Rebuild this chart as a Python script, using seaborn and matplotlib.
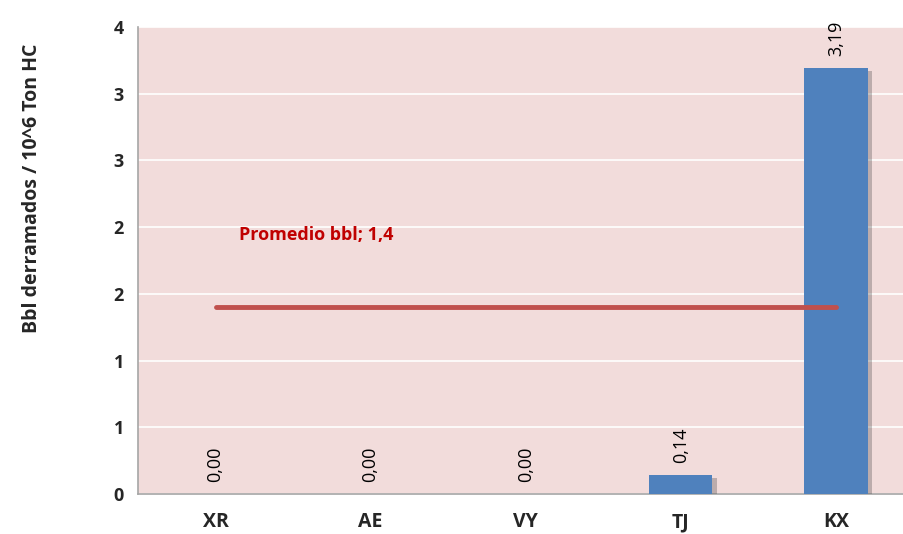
import matplotlib
matplotlib.use("Agg")
import matplotlib.pyplot as plt
import matplotlib.patheffects as pe
import seaborn as sns
import pandas as pd
import numpy as np

# Data
categorias = ["XR", "AE", "VY", "TJ", "KX"]
valores = [0.0, 0.0, 0.0, 0.14, 3.19]
promedio = 1.4
etiquetas = ["0,00", "0,00", "0,00", "0,14", "3,19"]
y_ticks = [0, 0.5, 1, 1.5, 2, 2.5, 3, 3.5]
y_labels = ["0", "1", "1", "2", "2", "3", "3", "4"]

df = pd.DataFrame({"Planta": categorias, "Valor": valores})

sns.set_style("white")
plt.rcParams["font.family"] = ["Open Sans", "DejaVu Sans"]

fig = plt.figure(figsize=(9.04, 5.34), dpi=100)
ax = fig.add_axes([138 / 904, 40 / 534, 1 - 138 / 904, 467 / 534])
ax.set_facecolor("#F2DCDB")

sns.barplot(data=df, x="Planta", y="Valor", color="#4F81BD", width=0.41,
            saturation=1, linewidth=0, edgecolor="none", ax=ax, zorder=3)
for bar in ax.patches:
    bar.set_path_effects([pe.SimplePatchShadow(offset=(3, -2), alpha=0.3,
                                               shadow_rgbFace="#404040"),
                          pe.Normal()])

# average line
ax.plot([0, len(categorias) - 1], [promedio, promedio], color="#C0504D",
        lw=3.5, zorder=4, solid_capstyle="round")
ax.text(0.15, 1.94, "Promedio bbl; 1,4", color="#C00000", fontsize=13,
        fontweight="bold", va="center", ha="left")

# data labels
for i, (v, t) in enumerate(zip(valores, etiquetas)):
    ax.annotate(t, (i, v), xytext=(0, 9), textcoords="offset points",
                rotation=90, ha="center", va="bottom", fontsize=13,
                color="black")

ax.set_ylim(0, 3.5)
ax.set_yticks(y_ticks)
ax.set_yticklabels(y_labels, fontsize=13, fontweight="bold")
ax.yaxis.grid(True, color="white", lw=1.2, zorder=0)
ax.set_axisbelow(True)

ax.set_xticks(range(len(categorias)))
ax.set_xticklabels(categorias, fontsize=14, fontweight="bold")
ax.tick_params(axis="x", length=0, pad=13)
ax.set_xticks(np.arange(-0.5, 4.0, 1), minor=True)
ax.tick_params(axis="x", which="minor", length=6, color="#A6A6A6", direction="out")
ax.tick_params(axis="y", length=6, color="#A6A6A6", direction="out", pad=4)
ax.set_xlim(-0.5, 4.44)

ax.set_xlabel("")
ax.set_ylabel("Bbl derramados / 10^6 Ton HC", fontsize=14, fontweight="bold")
ax.yaxis.set_label_coords(-96 / 766, 0.655)

for s in ["top", "right"]:
    ax.spines[s].set_visible(False)
for s in ["left", "bottom"]:
    ax.spines[s].set_color("#A6A6A6")
    ax.spines[s].set_linewidth(1.2)

fig.savefig("out.png", dpi=100)
